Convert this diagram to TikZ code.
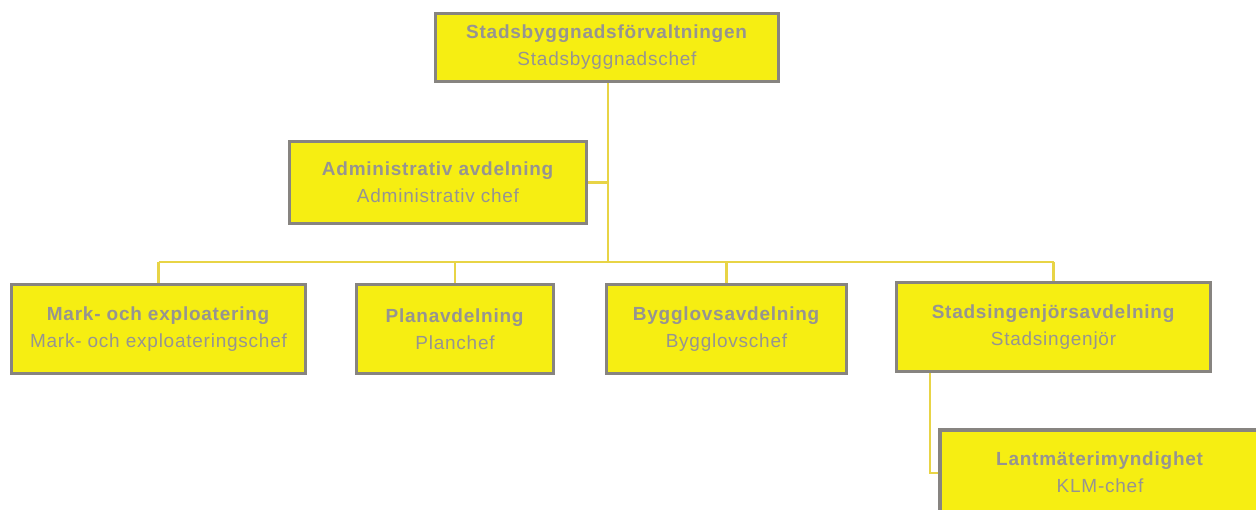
\documentclass[tikz,border=0pt]{standalone}
\usepackage{fontspec}
\setmainfont{Liberation Sans}[LetterSpace=4]
\definecolor{boxfill}{RGB}{246,238,18}
\definecolor{boxline}{RGB}{135,132,128}
\definecolor{txt}{RGB}{150,148,145}
\definecolor{conn}{RGB}{232,212,70}
\tikzset{
  unit/.style={draw=boxline, line width=3.5pt, fill=boxfill, rectangle, inner sep=0pt,
    align=center, text=txt, font=\fontsize{19}{27}\selectfont},
  link/.style={draw=conn, line width=2.4pt}
}
\begin{document}
\begin{tikzpicture}[x=1pt,y=-1pt]
\useasboundingbox (0,0) rectangle (1256,509);
\clip (0,0) rectangle (1256,509);
\fill[white] (0,0) rectangle (1256,509);
\node[unit, minimum width=343pt, minimum height=68pt] (top) at (607,47.5)
  {\textbf{Stadsbyggnadsförvaltningen}\\Stadsbyggnadschef};
\node[unit, minimum width=297pt, minimum height=82pt] (adm) at (438,182.5)
  {\textbf{Administrativ avdelning}\\Administrativ chef};
\node[unit, minimum width=294pt, minimum height=89pt] (mark) at (158.5,329)
  {\textbf{Mark- och exploatering}\\Mark- och exploateringschef};
\node[unit, minimum width=197pt, minimum height=89pt] (plan) at (455,329)
  {\textbf{Planavdelning}\\Planchef};
\node[unit, minimum width=240pt, minimum height=89pt] (bygg) at (726.5,329)
  {\textbf{Bygglovsavdelning}\\Bygglovschef};
\node[unit, minimum width=314pt, minimum height=89pt] (stads) at (1053.5,327)
  {\textbf{Stadsingenjörsavdelning}\\Stadsingenjör};
\node[unit, minimum width=320pt, minimum height=84pt] (lant) at (1100,472)
  {\textbf{Lantmäterimyndighet}\\KLM-chef};
\coordinate (trunk) at (608,262);
\coordinate (admj) at (608,182.5);
\coordinate (busl) at (158.5,262);
\coordinate (busr) at (1053.5,262);
\coordinate (kl) at (930,473);
\draw[link] (top.south -| trunk) -- (trunk);
\draw[link] (adm.east) -- (admj);
\draw[link] (busl) -- (busr);
\draw[link] (busl) -- (mark.north);
\draw[link] (plan.north |- trunk) -- (plan.north);
\draw[link] (bygg.north |- trunk) -- (bygg.north);
\draw[link] (busr) -- (stads.north);
\draw[link] (stads.south -| kl) -- (kl) -- (kl -| lant.west);
\end{tikzpicture}
\end{document}
